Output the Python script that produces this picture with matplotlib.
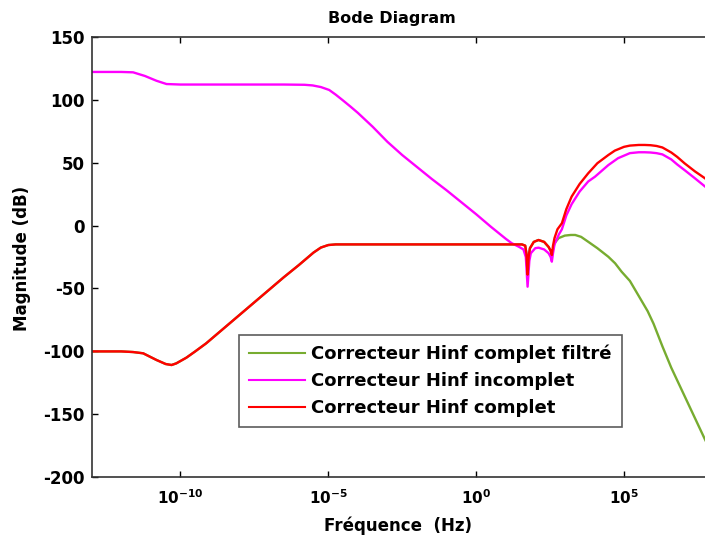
import numpy as np
import matplotlib
matplotlib.use("Agg")
import matplotlib.pyplot as plt

# ---- data (log10 frequency, magnitude dB) ----
red_logf = [-13.0, -12.0, -11.6, -11.26, -10.81, -10.5, -10.3, -10.14, -9.8, -9.5, -9.13,
            -8.5, -8.0, -7.5, -7.0, -6.5, -6.0, -5.75, -5.5, -5.25, -5.0, -4.75, -4.5,
            -3.0, -1.0, 0.5, 1.3, 1.55, 1.66, 1.70, 1.74, 1.78, 1.82, 1.95, 2.11, 2.3,
            2.45, 2.52, 2.56, 2.6, 2.65, 2.75, 2.9, 3.05, 3.23, 3.5, 3.79, 4.1, 4.47,
            4.69, 5.0, 5.2, 5.5, 5.7, 5.9, 6.1, 6.3, 6.6, 6.8, 7.05, 7.4, 7.74, 8.0]
red_db = [-100, -100, -100.5, -101.5, -106.8, -110, -110.8, -109.5, -105, -100, -93.6,
          -81, -71, -61, -51, -41, -31.5, -26.5, -21.5, -17.5, -15.5, -15, -15,
          -15, -15, -15, -15, -15, -16, -22, -39, -24, -18, -13, -11.5, -13,
          -17, -20, -23.4, -16, -10, -3, 1.8, 13, 23, 33, 41.5, 49.5, 56,
          59.5, 62.5, 63.5, 64, 64, 63.8, 63.2, 62, 58, 54.5, 49.4, 43, 37.5, 32]

mag_logf = [-13.0, -12.0, -11.6, -11.2, -10.81, -10.47, -10.0, -8.0, -6.5, -5.8, -5.53,
            -5.25, -4.97, -4.75, -4.52, -4.25, -4.0, -3.5, -3.0, -2.5, -2.0, -1.5, -1.0,
            -0.5, 0.0, 0.5, 1.0, 1.2, 1.44, 1.6, 1.68, 1.74, 1.80, 1.85, 2.0, 2.11,
            2.3, 2.45, 2.52, 2.56, 2.6, 2.65, 2.8, 2.9, 3.05, 3.23, 3.5, 3.79, 4.02,
            4.47, 4.8, 5.2, 5.5, 5.7, 5.9, 6.1, 6.3, 6.6, 6.8, 7.05, 7.4, 7.74, 8.0]
mag_db = [122, 122, 121.7, 118.8, 115, 112.4, 112, 112, 112, 111.8, 111.3,
          110, 107.7, 104, 99.7, 94.5, 89.5, 78.5, 66.5, 56, 46.5, 37, 28,
          18.5, 9, -1, -10.5, -14, -16.8, -19, -25, -48.6, -28, -22, -18, -17.6,
          -19, -22, -25, -28.7, -22, -15, -7, -3, 8, 17, 27, 35, 38.8,
          48, 53.5, 57.5, 58.2, 58.2, 58, 57.5, 56.5, 52.5, 48.5, 44, 37.5, 31, 26]

grn_logf = [-13.0, -12.0, -11.6, -11.26, -10.81, -10.5, -10.3, -10.14, -9.8, -9.5, -9.13,
            -8.5, -8.0, -7.5, -7.0, -6.5, -6.0, -5.75, -5.5, -5.25, -5.0, -4.75, -4.5,
            -3.0, -1.0, 0.5, 1.3, 1.55, 1.66, 1.70, 1.74, 1.78, 1.82, 1.95, 2.11, 2.3,
            2.45, 2.52, 2.56, 2.65, 2.79, 3.0, 3.2, 3.35, 3.55, 3.79, 4.1, 4.47, 4.7,
            4.92, 5.2, 5.5, 5.8, 6.0, 6.3, 6.6, 6.9, 7.2, 7.5, 7.74, 8.0]
grn_db = [-100, -100, -100.5, -101.5, -106.8, -110, -110.8, -109.5, -105, -100, -93.6,
          -81, -71, -61, -51, -41, -31.5, -26.5, -21.5, -17.5, -15.5, -15, -15,
          -15, -15, -15, -15, -15, -16, -22, -39, -24, -18, -13, -11.5, -13,
          -17, -20, -23, -14, -10, -8, -7.5, -7.5, -9, -12.9, -18, -24.8, -30,
          -36.7, -44, -56, -68, -78, -96, -113, -128, -143, -158, -170, -182]

legend_labels = ["Correcteur Hinf complet filtré", "Correcteur Hinf incomplet",
                 "Correcteur Hinf complet"]
xtick_exp = [-10, -5, 0, 5]
ytick_vals = [-200, -150, -100, -50, 0, 50, 100, 150]

plt.rcParams['font.family'] = ['DejaVu Sans']
plt.rcParams['mathtext.fontset'] = 'dejavusans'

W, H = 705, 542
fig = plt.figure(figsize=(W / 100, H / 100), dpi=100)
ax_l, ax_r, ax_t, ax_b = 91.7, 712.7, 36.7, 477.3
ax = fig.add_axes([ax_l / W, 1 - ax_b / H, (ax_r - ax_l) / W, (ax_b - ax_t) / H])

ax.plot(10.0 ** np.array(grn_logf), grn_db, color='#77AC30', lw=1.7, label=legend_labels[0])
ax.plot(10.0 ** np.array(mag_logf), mag_db, color='#FF00FF', lw=1.7, label=legend_labels[1])
ax.plot(10.0 ** np.array(red_logf), red_db, color='#FF0000', lw=1.7, label=legend_labels[2])

ax.set_xscale('log')
ax.set_xlim(1e-13, 1e8)
ax.set_ylim(-200, 150)
ax.set_xticks([10.0 ** e for e in xtick_exp])
ax.set_xticklabels([r'$\mathbf{10^{%d}}$' % e for e in xtick_exp], fontsize=11)
ax.xaxis.set_minor_locator(matplotlib.ticker.NullLocator())
ax.set_yticks(ytick_vals)
ax.set_yticklabels([str(v) for v in ytick_vals], fontsize=12, fontweight='bold')
ax.tick_params(direction='in', length=4, width=1, top=True, right=True, colors='black')
ax.tick_params(axis='y', pad=5)
ax.tick_params(axis='x', pad=8)
for s in ax.spines.values():
    s.set_linewidth(1.2)
    s.set_color('#333333')

fig.text(392 / W, 1 - 18 / H, 'Bode Diagram', ha='center', va='center', fontsize=11.5, fontweight='bold')
fig.text(398 / W, 1 - 526 / H, 'Fréquence  (Hz)', ha='center', va='center', fontsize=12, fontweight='bold')
fig.text(22 / W, 1 - 258 / H, 'Magnitude (dB)', ha='center', va='center', rotation=90, fontsize=12, fontweight='bold')

leg = ax.legend(loc='upper left', bbox_to_anchor=(239 / W, 1 - 335 / H), bbox_transform=fig.transFigure,
                borderaxespad=0, fancybox=False, frameon=True, edgecolor='#333333',
                prop={'weight': 'bold', 'size': 13}, handlelength=3.1, handletextpad=0.35,
                labelspacing=0.5, borderpad=0.55)
leg.get_frame().set_linewidth(1.2)
for line in leg.get_lines():
    line.set_linewidth(1.5)

fig.savefig('out.png', dpi=100)
